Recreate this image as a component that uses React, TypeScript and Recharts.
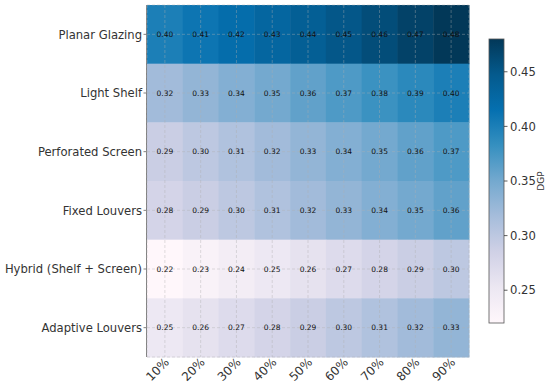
import React from "react";
import { ScatterChart, Scatter, XAxis, YAxis, CartesianGrid, LabelList } from "recharts";

const columns = ["10%", "20%", "30%", "40%", "50%", "60%", "70%", "80%", "90%"];
const rows = [
  "Planar Glazing",
  "Light Shelf",
  "Perforated Screen",
  "Fixed Louvers",
  "Hybrid (Shelf + Screen)",
  "Adaptive Louvers",
];

const planarGlazing = [0.40, 0.41, 0.42, 0.43, 0.44, 0.45, 0.46, 0.47, 0.48];
const lightShelf = [0.32, 0.33, 0.34, 0.35, 0.36, 0.37, 0.38, 0.39, 0.40];
const perforatedScreen = [0.29, 0.30, 0.31, 0.32, 0.33, 0.34, 0.35, 0.36, 0.37];
const fixedLouvers = [0.28, 0.29, 0.30, 0.31, 0.32, 0.33, 0.34, 0.35, 0.36];
const hybrid = [0.22, 0.23, 0.24, 0.25, 0.26, 0.27, 0.28, 0.29, 0.30];
const adaptiveLouvers = [0.25, 0.26, 0.27, 0.28, 0.29, 0.30, 0.31, 0.32, 0.33];

const rowValues = [planarGlazing, lightShelf, perforatedScreen, fixedLouvers, hybrid, adaptiveLouvers];

const cbTicks = [0.25, 0.30, 0.35, 0.40, 0.45];
const CB_MIN = 0.22;
const CB_MAX = 0.48;

// matplotlib PuBu
const PUBU = [
  [255, 247, 251], [236, 231, 242], [208, 209, 230], [166, 189, 219],
  [116, 169, 207], [54, 144, 192], [5, 112, 176], [4, 90, 141], [2, 56, 88],
];

function pubu(t: number) {
  const c = Math.max(0, Math.min(1, t)) * (PUBU.length - 1);
  const i = Math.min(PUBU.length - 2, Math.floor(c));
  const f = c - i;
  const a = PUBU[i], b = PUBU[i + 1];
  const m = (k: number) => Math.round(a[k] + (b[k] - a[k]) * f);
  return `rgb(${m(0)},${m(1)},${m(2)})`;
}
const colorOf = (v: number) => pubu((v - CB_MIN) / (CB_MAX - CB_MIN));

const cells = rowValues.flatMap((vals, r) => vals.map((v, c) => ({ x: c, y: r, v })));

const W = 550;
const H = 390;
const MARGIN = { top: 5, right: 81, bottom: 0, left: 0 };
const Y_W = 147;
const X_H = 33;
const PLOT_W = W - MARGIN.right - Y_W;
const PLOT_H = H - MARGIN.top - X_H;
const CELL_W = PLOT_W / columns.length;
const CELL_H = PLOT_H / rows.length;

// colorbar box
const CB = { x: 489, y: 39, w: 15, h: 284 };
const cbY = (v: number) => CB.y + CB.h * (CB_MAX - v) / (CB_MAX - CB_MIN);

const FONT = "DejaVu Sans, sans-serif";

const HeatCell = (props: any) => {
  const { cx, cy, payload } = props;
  return (
    <rect
      x={cx - CELL_W / 2}
      y={cy - CELL_H / 2}
      width={CELL_W + 0.5}
      height={CELL_H + 0.5}
      fill={colorOf(payload.v)}
    />
  );
};

const XTick = (props: any) => {
  const { x, y, payload } = props;
  const ax = x + 5;
  const ay = y - 2;
  return (
    <text
      x={ax}
      y={ay}
      transform={`rotate(-45 ${ax} ${ay})`}
      textAnchor="end"
      fontSize={12}
      fill="#333"
      fontFamily={FONT}
    >
      {columns[payload.value]}
    </text>
  );
};

const YTick = (props: any) => {
  const { y, payload } = props;
  return (
    <text x={Y_W - 5} y={y} dy="0.36em" textAnchor="end" fontSize={11.6} fill="#333" fontFamily={FONT}>
      {rows[payload.value]}
    </text>
  );
};

function Colorbar() {
  const stops = PUBU.map((_, i) => i / (PUBU.length - 1));
  return (
    <svg width={W} height={H} style={{ position: "absolute", left: 0, top: 0, pointerEvents: "none" }}>
      <defs>
        <linearGradient id="cbGrad" x1="0" y1="1" x2="0" y2="0">
          {PUBU.map((c, i) => (
            <stop key={i} offset={stops[i]} stopColor={`rgb(${c[0]},${c[1]},${c[2]})`} />
          ))}
        </linearGradient>
      </defs>
      <rect x={CB.x} y={CB.y} width={CB.w} height={CB.h} fill="url(#cbGrad)" stroke="#555" strokeWidth={0.8} />
      {cbTicks.map((t) => (
        <g key={t}>
          <line x1={CB.x + CB.w} x2={CB.x + CB.w + 3.5} y1={cbY(t)} y2={cbY(t)} stroke="#333" strokeWidth={0.8} />
          <text x={CB.x + CB.w + 6} y={cbY(t)} dy="0.36em" fontSize={11.6} fill="#333" fontFamily={FONT}>
            {t.toFixed(2)}
          </text>
        </g>
      ))}
      <text
        x={544}
        y={CB.y + CB.h / 2}
        transform={`rotate(-90 544 ${CB.y + CB.h / 2})`}
        textAnchor="middle"
        fontSize={9}
        fill="#333"
        fontFamily={FONT}
      >
        DGP
      </text>
    </svg>
  );
}

export default function App() {
  return (
    <div style={{ position: "absolute", left: 0, top: 0, width: W, height: H, background: "#fff", fontFamily: FONT }}>
      <ScatterChart width={W} height={H} margin={MARGIN}>
        <XAxis
          type="number"
          dataKey="x"
          domain={[-0.5, columns.length - 0.5]}
          ticks={columns.map((_, i) => i)}
          interval={0}
          height={X_H}
          axisLine={false}
          tickLine={false}
          tick={<XTick />}
        />
        <YAxis
          type="number"
          dataKey="y"
          reversed
          domain={[-0.5, rows.length - 0.5]}
          ticks={rows.map((_, i) => i)}
          interval={0}
          width={Y_W}
          axisLine={{ stroke: "#808080", strokeWidth: 2 }}
          tickLine={{ stroke: "#808080" }}
          tickSize={3.5}
          tick={<YTick />}
        />
        <Scatter data={cells} shape={<HeatCell />} isAnimationActive={false}>
          <LabelList
            dataKey="v"
            position="center"
            formatter={(v: any) => Number(v).toFixed(2)}
            style={{ fontSize: 7.5, fill: "#111", fontFamily: FONT }}
          />
        </Scatter>
        <CartesianGrid
          stroke="rgba(176,176,176,0.5)"
          strokeDasharray="3 2"
          strokeWidth={0.8}
          zIndex={1000}
        />
      </ScatterChart>
      <Colorbar />
    </div>
  );
}
